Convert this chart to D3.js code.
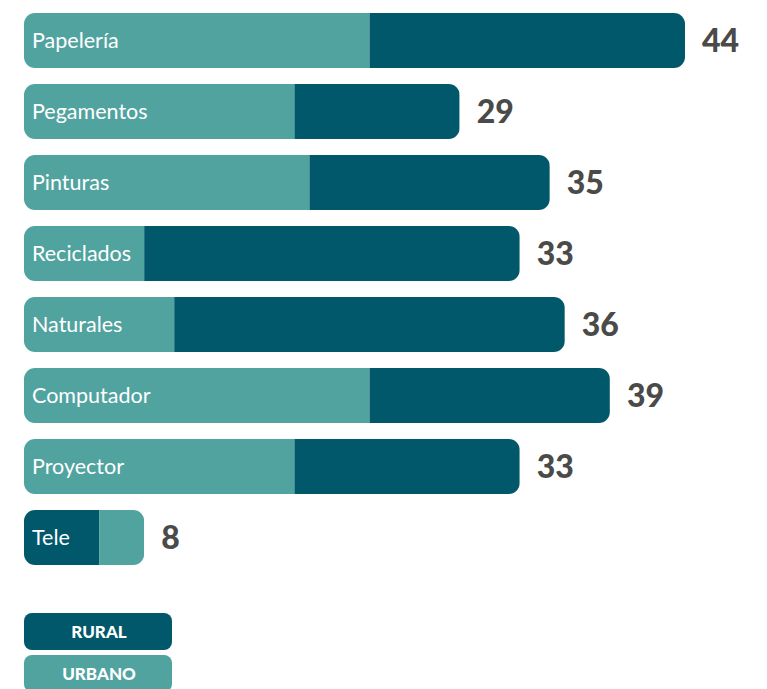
<!DOCTYPE html>
<html lang="es">
<head>
<meta charset="utf-8">
<title>Materiales</title>
<script src="https://d3js.org/d3.v7.min.js"></script>
<style>
  body { margin: 0; background: #fff; }
  text { font-family: Lato, "Open Sans", sans-serif; }
</style>
</head>
<body>
<script>
// datos
var categorias = ["Papelería", "Pegamentos", "Pinturas", "Reciclados", "Naturales", "Computador", "Proyector", "Tele"];
var urbano = [23, 18, 19, 8, 10, 23, 18, 3];
var rural  = [21, 11, 16, 25, 26, 16, 15, 5];
// which segment is drawn first (leftmost) in each bar
var primero = ["urbano", "urbano", "urbano", "urbano", "urbano", "urbano", "urbano", "rural"];
var leyenda = ["RURAL", "URBANO"];

var w = 767, h = 689;
var colores = { rural: "#02586b", urbano: "#51a3a0" };

var svg = d3.select("body").append("svg").attr("width", w).attr("height", h);

var x = d3.scaleLinear().domain([0, 44]).range([24, 685]);
var y = d3.scaleBand().domain(categorias).range([13, 565]).paddingInner(16 / 71).paddingOuter(0);

var filas = svg.selectAll("g.fila").data(categorias).enter().append("g").attr("class", "fila");

filas.each(function(c, i) {
  var g = d3.select(this);
  var total = urbano[i] + rural[i];
  var id = "clip" + i;
  g.append("clipPath").attr("id", id)
    .append("rect")
    .attr("x", x(0)).attr("y", y(c))
    .attr("width", x(total) - x(0)).attr("height", y.bandwidth())
    .attr("rx", 11).attr("ry", 11);

  var segs = primero[i] == "urbano"
    ? [["urbano", urbano[i]], ["rural", rural[i]]]
    : [["rural", rural[i]], ["urbano", urbano[i]]];
  var acc = 0;
  segs.forEach(function(s) {
    g.append("rect")
      .attr("clip-path", "url(#" + id + ")")
      .attr("x", x(acc)).attr("y", y(c))
      .attr("width", x(acc + s[1]) - x(acc)).attr("height", y.bandwidth())
      .attr("fill", colores[s[0]]);
    acc += s[1];
  });

  g.append("text")
    .attr("x", x(0) + 8).attr("y", y(c) + y.bandwidth() / 2)
    .attr("dy", "0.36em")
    .attr("fill", "#fff").attr("font-size", 21.5)
    .text(c);

  g.append("text")
    .attr("x", x(total) + 17).attr("y", y(c) + y.bandwidth() / 2)
    .attr("dy", "0.36em")
    .attr("fill", "#4a4a48").attr("font-size", 32).attr("font-weight", 900)
    .text(total);
});

// leyenda
var ly = d3.scaleBand().domain(leyenda).range([613, 692]).paddingInner(5 / 42);
var leg = svg.selectAll("g.ley").data(leyenda).enter().append("g").attr("class", "ley");
leg.append("rect")
  .attr("x", 24).attr("y", function(d) { return ly(d); })
  .attr("width", 148).attr("height", ly.bandwidth())
  .attr("rx", 8).attr("ry", 8)
  .attr("fill", function(d) { return d == "RURAL" ? colores.rural : colores.urbano; });
leg.append("text")
  .attr("x", 99).attr("y", function(d) { return ly(d) + ly.bandwidth() / 2; })
  .attr("dy", "0.36em").attr("text-anchor", "middle")
  .attr("fill", "#fff").attr("font-size", 17).attr("font-weight", 900)
  .text(function(d) { return d; });
</script>
</body>
</html>
